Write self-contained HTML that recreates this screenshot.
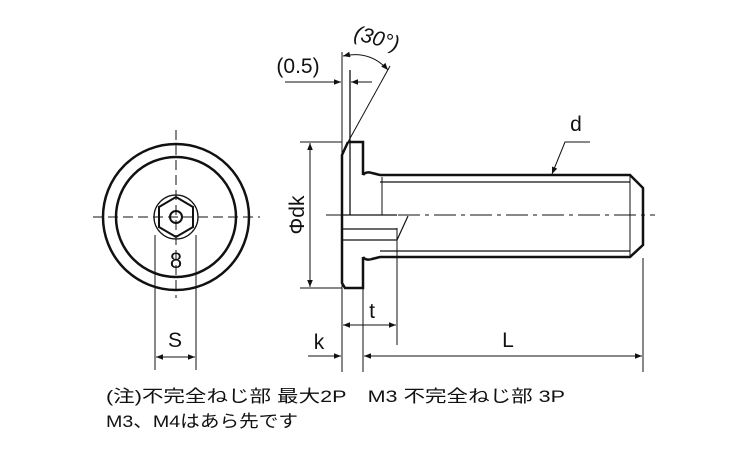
<!DOCTYPE html>
<html><head><meta charset="utf-8"><style>
body{margin:0;background:#fff;}
svg{display:block;}
text{font-family:"Liberation Sans","Noto Sans CJK JP",sans-serif;fill:#111;}
</style></head><body>
<svg width="750" height="450" viewBox="0 0 750 450" xmlns="http://www.w3.org/2000/svg">
<defs>
<marker id="a" viewBox="0 0 10 10" refX="10" refY="5" markerWidth="9" markerHeight="7" orient="auto-start-reverse" markerUnits="userSpaceOnUse"><path d="M0,1 L10,5 L0,9 z" fill="#111"/></marker>
</defs>
<g stroke="#111" fill="none">
<circle cx="176" cy="217" r="73" stroke-width="2.5"/>
<circle cx="176" cy="217" r="60" stroke-width="2.5"/>
<circle cx="176" cy="217" r="22" stroke-width="1.3"/>
<polygon points="176,197 193,207 193,227 176,237 159,227 159,207" stroke-width="2"/>
<circle cx="176" cy="217" r="6" stroke-width="2"/>
<line x1="93" y1="217" x2="260" y2="217" stroke-width="1" stroke-dasharray="10,5"/>
<line x1="176" y1="130" x2="176" y2="298" stroke-width="1" stroke-dasharray="10,5"/>
<line x1="155" y1="235" x2="155" y2="370" stroke-width="1"/>
<line x1="196" y1="235" x2="196" y2="370" stroke-width="1"/>
<line x1="156" y1="357" x2="195" y2="357" stroke-width="1" marker-start="url(#a)" marker-end="url(#a)"/>

<path d="M348,142 L363,142 L363,175 M348,142 L342,155 L342,283 L345,288 L363,288 L363,257" stroke-width="2.5"/>
<line x1="350" y1="70" x2="350" y2="215" stroke-width="1.3"/>
<path d="M342,215 L397,215 M342,229 L397,229 M342,240 L397,240" stroke-width="1.3"/>
<line x1="397" y1="240" x2="408" y2="216" stroke-width="1.2"/>
<path d="M363,175 Q366,171 372,173 L380,175 L630,175 L643,188 L643,245 L630,257 L380,257 L372,259 Q366,261 363,257" stroke-width="2.5"/>
<line x1="380" y1="182" x2="630" y2="182" stroke-width="1.3"/>
<line x1="380" y1="251" x2="630" y2="251" stroke-width="1.3"/>
<line x1="630" y1="175" x2="630" y2="257" stroke-width="1"/>
<line x1="382" y1="177" x2="382" y2="215" stroke-width="1"/>
<line x1="326" y1="215" x2="655" y2="215" stroke-width="1" stroke-dasharray="22,5,4,5"/>

<line x1="342" y1="52" x2="342" y2="372" stroke-width="1"/>
<line x1="363" y1="288" x2="363" y2="372" stroke-width="1"/>
<line x1="397" y1="228" x2="397" y2="345" stroke-width="1"/>
<line x1="643" y1="258" x2="643" y2="372" stroke-width="1"/>
<line x1="300" y1="142" x2="342" y2="142" stroke-width="1"/>
<line x1="300" y1="288" x2="342" y2="288" stroke-width="1"/>
<line x1="310" y1="143" x2="310" y2="287" stroke-width="1" marker-start="url(#a)" marker-end="url(#a)"/>
<line x1="343" y1="325" x2="396" y2="325" stroke-width="1" marker-start="url(#a)" marker-end="url(#a)"/>
<line x1="308" y1="356" x2="341" y2="356" stroke-width="1" marker-end="url(#a)"/>
<line x1="364" y1="356" x2="642" y2="356" stroke-width="1" marker-start="url(#a)" marker-end="url(#a)"/>
<line x1="285" y1="82" x2="341" y2="82" stroke-width="1" marker-end="url(#a)"/>
<line x1="372" y1="82" x2="351" y2="82" stroke-width="1" marker-end="url(#a)"/>
<line x1="348" y1="142" x2="390" y2="66" stroke-width="1"/>
<path d="M343,56 Q370,50 388,70" stroke-width="1" marker-start="url(#a)" marker-end="url(#a)"/>
<polyline points="552,174 565,142 590,142" stroke-width="1" marker-start="url(#a)"/>
</g>
<text x="176" y="268" font-size="22" text-anchor="middle">8</text>
<text x="175" y="347" font-size="21" text-anchor="middle">S</text>
<text x="319" y="349" font-size="21" text-anchor="middle">k</text>
<text x="372" y="318" font-size="21" text-anchor="middle">t</text>
<text x="508" y="347" font-size="21" text-anchor="middle">L</text>
<text x="576" y="131" font-size="21" text-anchor="middle">d</text>
<text x="298" y="73" font-size="21" text-anchor="middle">(0.5)</text>
<text transform="translate(375,45) rotate(15)" font-size="21" font-style="italic" text-anchor="middle">(30°)</text>
<text transform="translate(304,215) rotate(-90)" font-size="21" text-anchor="middle">Φdk</text>
<text x="106" y="402" font-size="17" textLength="459" lengthAdjust="spacingAndGlyphs">(注)不完全ねじ部 最大2P　M3 不完全ねじ部 3P</text>
<text x="106" y="427" font-size="17" textLength="192" lengthAdjust="spacingAndGlyphs">M3、M4はあら先です</text>
</svg>
</body></html>
